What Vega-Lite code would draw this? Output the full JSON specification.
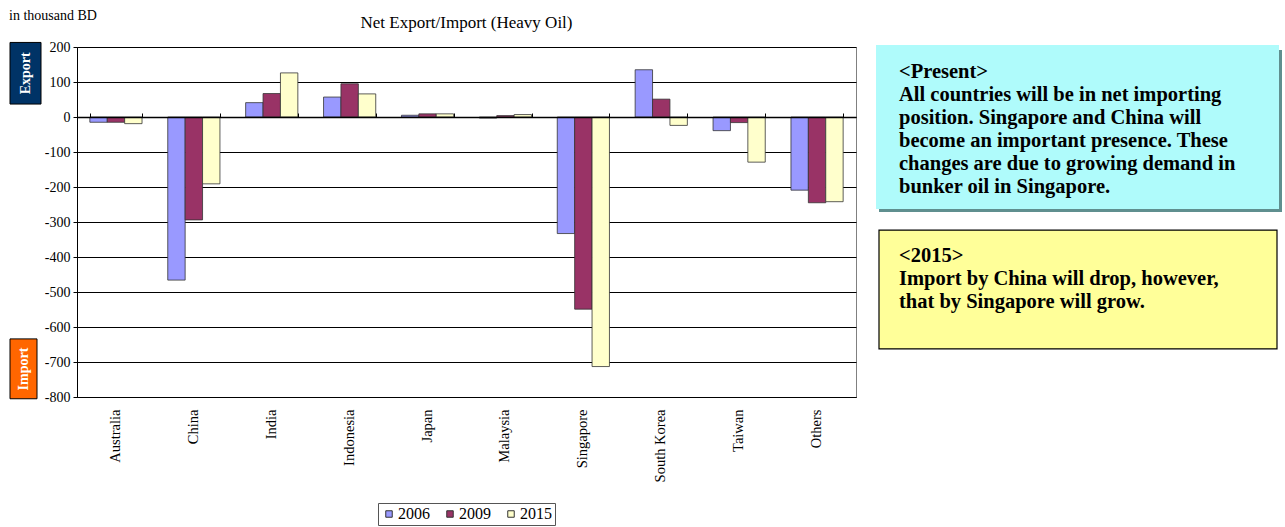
{
  "$schema": "https://vega.github.io/schema/vega-lite/v6.json",
  "padding": {"left": 9, "top": 8, "right": 0, "bottom": 0},
  "background": "white",
  "spacing": 36,
  "bounds": "flush",
  "config": {
    "view": {"stroke": null},
    "font": "Liberation Serif"
  },
  "hconcat": [
    {
      "width": 32,
      "height": 350,
      "title": {"text": "in thousand BD", "anchor": "start", "font": "Liberation Serif", "fontSize": 14, "fontWeight": "normal", "offset": 19, "color": "black"},
      "data": {"values": [{"label": "Export"}, {"label": "Import"}]},
      "layer": [
        {
          "transform": [{"filter": "datum.label == 'Export'"}],
          "mark": {"type": "rect", "fill": "#003366", "stroke": "black", "strokeWidth": 1},
          "encoding": {
            "x": {"datum": 1, "type": "quantitative", "scale": {"domain": [0, 32], "nice": false, "zero": false}, "axis": null},
            "x2": {"datum": 32},
            "y": {"datum": 213, "type": "quantitative", "scale": {"domain": [-800, 200], "nice": false}, "axis": null},
            "y2": {"datum": 37}
          }
        },
        {
          "transform": [{"filter": "datum.label == 'Import'"}],
          "mark": {"type": "rect", "fill": "#FF6600", "stroke": "black", "strokeWidth": 1},
          "encoding": {
            "x": {"datum": 1, "type": "quantitative"},
            "x2": {"datum": 28},
            "y": {"datum": -634, "type": "quantitative"},
            "y2": {"datum": -805}
          }
        },
        {
          "transform": [{"filter": "datum.label == 'Export'"}],
          "mark": {"type": "text", "angle": 270, "color": "white", "fontWeight": "bold", "fontSize": 14, "font": "Liberation Serif", "align": "center", "baseline": "middle"},
          "encoding": {
            "x": {"datum": 16.5, "type": "quantitative"},
            "y": {"datum": 125, "type": "quantitative"},
            "text": {"field": "label"}
          }
        },
        {
          "transform": [{"filter": "datum.label == 'Import'"}],
          "mark": {"type": "text", "angle": 270, "color": "white", "fontWeight": "bold", "fontSize": 14, "font": "Liberation Serif", "align": "center", "baseline": "middle"},
          "encoding": {
            "x": {"datum": 14.5, "type": "quantitative"},
            "y": {"datum": -720, "type": "quantitative"},
            "text": {"field": "label"}
          }
        }
      ]
    },
    {
      "width": 779,
      "height": 350,
      "view": {"stroke": "#808080", "strokeWidth": 1},
      "title": {"text": "Net Export/Import (Heavy Oil)", "font": "Liberation Serif", "fontSize": 17, "fontWeight": "normal", "offset": 8, "color": "black"},
      "data": {"values": [
        {"country": "Australia", "year": "2006", "value": -15},
        {"country": "Australia", "year": "2009", "value": -15},
        {"country": "Australia", "year": "2015", "value": -19},
        {"country": "China", "year": "2006", "value": -466},
        {"country": "China", "year": "2009", "value": -294},
        {"country": "China", "year": "2015", "value": -191},
        {"country": "India", "year": "2006", "value": 41},
        {"country": "India", "year": "2009", "value": 67},
        {"country": "India", "year": "2015", "value": 126},
        {"country": "Indonesia", "year": "2006", "value": 57},
        {"country": "Indonesia", "year": "2009", "value": 95},
        {"country": "Indonesia", "year": "2015", "value": 66},
        {"country": "Japan", "year": "2006", "value": 5},
        {"country": "Japan", "year": "2009", "value": 9},
        {"country": "Japan", "year": "2015", "value": 9},
        {"country": "Malaysia", "year": "2006", "value": -3},
        {"country": "Malaysia", "year": "2009", "value": 4},
        {"country": "Malaysia", "year": "2015", "value": 7},
        {"country": "Singapore", "year": "2006", "value": -333},
        {"country": "Singapore", "year": "2009", "value": -549},
        {"country": "Singapore", "year": "2015", "value": -713},
        {"country": "South Korea", "year": "2006", "value": 135},
        {"country": "South Korea", "year": "2009", "value": 51},
        {"country": "South Korea", "year": "2015", "value": -24},
        {"country": "Taiwan", "year": "2006", "value": -39},
        {"country": "Taiwan", "year": "2009", "value": -16},
        {"country": "Taiwan", "year": "2015", "value": -129},
        {"country": "Others", "year": "2006", "value": -209},
        {"country": "Others", "year": "2009", "value": -245},
        {"country": "Others", "year": "2015", "value": -242}
      ]},
      "resolve": {"axis": {"x": "independent"}},
      "layer": [
        {
          "mark": {"type": "bar", "stroke": "#333333", "strokeWidth": 0.8},
          "encoding": {
            "x": {
              "field": "country", "type": "nominal",
              "sort": ["Australia", "China", "India", "Indonesia", "Japan", "Malaysia", "Singapore", "South Korea", "Taiwan", "Others"],
              "scale": {"paddingInner": 0.33, "paddingOuter": 0.165},
              "axis": {"orient": "bottom", "title": null, "labelAngle": -90, "labelAlign": "right", "labelBaseline": "middle", "labelPadding": 12, "labelFont": "Liberation Serif", "labelFontSize": 14.5, "labelColor": "black", "ticks": false, "domainColor": "black", "domainWidth": 1, "grid": false}
            },
            "xOffset": {"field": "year", "type": "nominal", "scale": {"paddingInner": 0, "paddingOuter": 0}},
            "y": {
              "field": "value", "type": "quantitative",
              "scale": {"domain": [-800, 200], "nice": false},
              "axis": {"title": null, "values": [200, 100, 0, -100, -200, -300, -400, -500, -600, -700, -800], "labelExpr": "'' + datum.value", "labelFont": "Liberation Serif", "labelFontSize": 14, "labelColor": "black", "labelPadding": 3, "tickColor": "black", "tickSize": 4, "domainColor": "black", "gridColor": "black", "gridWidth": 1, "gridOpacity": 1}
            },
            "color": {
              "field": "year", "type": "nominal",
              "scale": {"domain": ["2006", "2009", "2015"], "range": ["#9999FF", "#993366", "#FFFFCC"]},
              "legend": {"title": null, "orient": "none", "legendX": 369, "legendY": 456, "direction": "horizontal", "symbolType": "square", "symbolSize": 42, "symbolStrokeColor": "#333333", "symbolStrokeWidth": 1, "labelFont": "Liberation Serif", "labelFontSize": 16, "labelColor": "black", "strokeColor": "#555555", "padding": 3, "columnPadding": 12, "labelOffset": 1}
            }
          }
        },
        {
          "mark": {"type": "point", "opacity": 0},
          "encoding": {
            "x": {
              "field": "country", "type": "nominal",
              "sort": ["Australia", "China", "India", "Indonesia", "Japan", "Malaysia", "Singapore", "South Korea", "Taiwan", "Others"],
              "axis": {"orient": "top", "offset": -70, "title": null, "labels": false, "grid": false, "tickBand": "extent", "tickSize": 4, "tickColor": "black", "domainColor": "black", "domainWidth": 1.5, "zindex": 2}
            }
          }
        }
      ]
    },
    {
      "width": 392,
      "height": 350,
      "data": {"values": [
        {"box": "present", "line": 0, "text": "<Present>"},
        {"box": "present", "line": 1, "text": "All countries will be in net importing"},
        {"box": "present", "line": 2, "text": "position. Singapore and China will"},
        {"box": "present", "line": 3, "text": "become an important presence. These"},
        {"box": "present", "line": 4, "text": "changes are due to growing demand in"},
        {"box": "present", "line": 5, "text": "bunker oil in Singapore."},
        {"box": "2015", "line": 8, "text": "<2015>"},
        {"box": "2015", "line": 9, "text": "Import by China will drop, however,"},
        {"box": "2015", "line": 10, "text": "that by Singapore will grow."}
      ]},
      "layer": [
        {
          "transform": [{"filter": "datum.line == 0"}],
          "mark": {"type": "rect", "fill": "#5F8F8F"},
          "encoding": {
            "x": {"datum": -13, "type": "quantitative", "scale": {"domain": [0, 392], "nice": false, "zero": false}, "axis": null},
            "x2": {"datum": 390},
            "y": {"datum": -1.22, "type": "quantitative", "scale": {"domain": [-1.35, 13.87], "reverse": true, "nice": false, "zero": false}, "axis": null},
            "y2": {"datum": 5.83}
          }
        },
        {
          "transform": [{"filter": "datum.line == 0"}],
          "mark": {"type": "rect", "fill": "#AFFBFB"},
          "encoding": {
            "x": {"datum": -16, "type": "quantitative"},
            "x2": {"datum": 387},
            "y": {"datum": -1.44, "type": "quantitative"},
            "y2": {"datum": 5.7}
          }
        },
        {
          "transform": [{"filter": "datum.line == 0"}],
          "mark": {"type": "rect", "fill": "#FFFF99", "stroke": "black", "strokeWidth": 1.2},
          "encoding": {
            "x": {"datum": -13, "type": "quantitative"},
            "x2": {"datum": 385},
            "y": {"datum": 6.61, "type": "quantitative"},
            "y2": {"datum": 11.78}
          }
        },
        {
          "mark": {"type": "text", "align": "left", "baseline": "alphabetic", "font": "Liberation Serif", "fontWeight": "bold", "fontSize": 20.5, "color": "black"},
          "encoding": {
            "x": {"datum": 7, "type": "quantitative"},
            "y": {"field": "line", "type": "quantitative"},
            "text": {"field": "text"}
          }
        }
      ]
    }
  ]
}
